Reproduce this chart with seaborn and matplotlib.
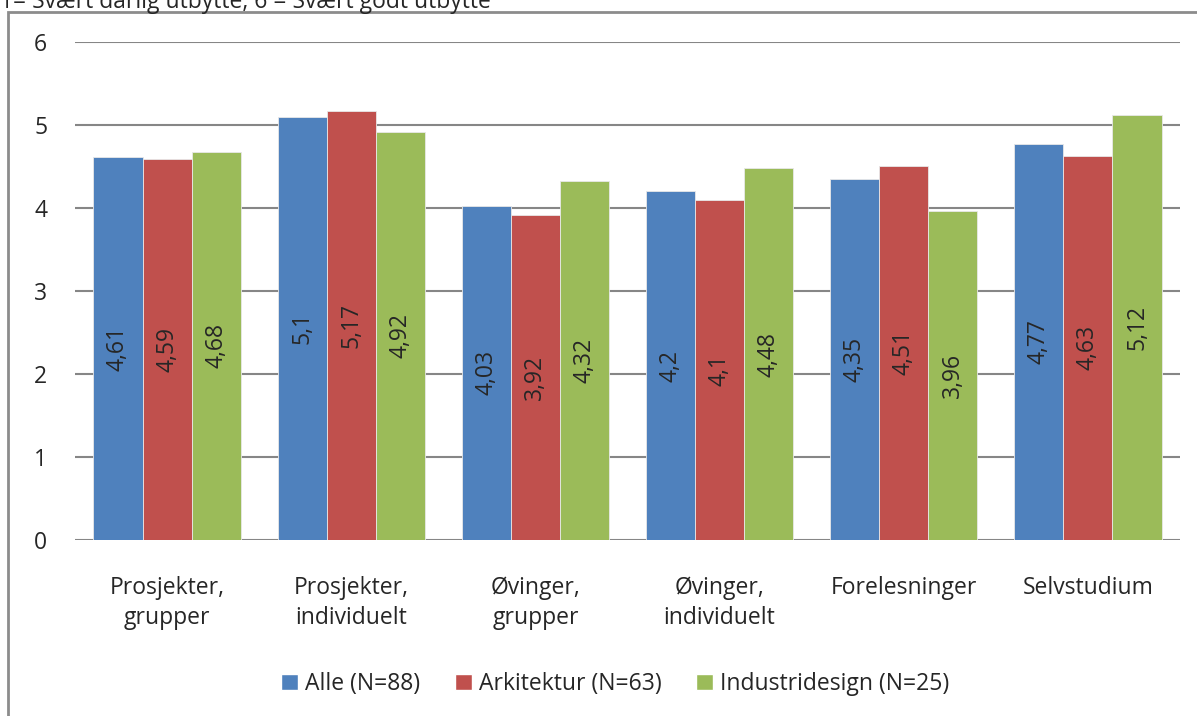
import seaborn as sns
import matplotlib.pyplot as plt
import pandas as pd
from matplotlib.patches import Rectangle, Patch

kategorier = ["Prosjekter,\ngrupper", "Prosjekter,\nindividuelt", "Øvinger,\ngrupper",
              "Øvinger,\nindividuelt", "Forelesninger", "Selvstudium"]
grupper = ["Alle (N=88)", "Arkitektur (N=63)", "Industridesign (N=25)"]
alle = [4.61, 5.1, 4.03, 4.2, 4.35, 4.77]
arkitektur = [4.59, 5.17, 3.92, 4.1, 4.51, 4.63]
industridesign = [4.68, 4.92, 4.32, 4.48, 3.96, 5.12]
farger = ["#4F81BD", "#C0504D", "#9BBB59"]

rows = []
for g, vals in zip(grupper, [alle, arkitektur, industridesign]):
    for k, v in zip(kategorier, vals):
        rows.append({"kategori": k, "gruppe": g, "verdi": v})
df = pd.DataFrame(rows)

sns.set_style("white")
plt.rcParams['font.family'] = ['Open Sans', 'DejaVu Sans']

fig = plt.figure(figsize=(11.97, 7.16), dpi=100)
ax = fig.add_axes([75 / 1197, 1 - 540 / 716, 1105 / 1197, 498 / 716])

sns.barplot(data=df, x="kategori", y="verdi", hue="gruppe", palette=farger,
            saturation=1, width=0.8, edgecolor="#e8e8e8", linewidth=0.6,
            ax=ax, legend=False, zorder=3)

ax.set_ylim(0, 6)
ax.set_yticks(range(7))
ax.yaxis.grid(True, color="#868686", linewidth=1.5, zorder=0)
ax.set_axisbelow(True)
for s in ax.spines.values():
    s.set_visible(False)
ax.set_xlabel("")
ax.set_ylabel("")
ax.tick_params(axis="both", length=0, labelsize=16.5)
ax.tick_params(axis="y", pad=20)
ax.tick_params(axis="x", pad=26)
for lab in ax.get_xticklabels():
    lab.set_linespacing(1.35)

# verdier inne i stolpene
for cont in ax.containers:
    for bar in cont:
        h = bar.get_height()
        ax.text(bar.get_x() + bar.get_width() / 2, h / 2,
                f"{h:g}".replace(".", ","), rotation=90, ha="center", va="center",
                fontsize=16.5, zorder=4)

handles = [Patch(facecolor=c, label=g) for c, g in zip(farger, grupper)]
fig.legend(handles=handles, loc="center", bbox_to_anchor=(615 / 1197, 1 - 684 / 716),
           ncol=3, frameon=False, fontsize=16.5, handlelength=0.75, handleheight=0.75,
           handletextpad=0.3, columnspacing=1.5)

# ramme rundt diagrammet
fig.patches.append(Rectangle((8 / 1197, -0.05), 1.1, 1 - 12 / 716 + 0.05,
                             transform=fig.transFigure, fill=False,
                             edgecolor="#8c8c8c", linewidth=2))
fig.text(0, 1 - 1 / 716, "1= Svært dårlig utbytte, 6 = Svært godt utbytte",
         ha="left", va="center", fontsize=16.5)

plt.savefig("out.png", dpi=100)
